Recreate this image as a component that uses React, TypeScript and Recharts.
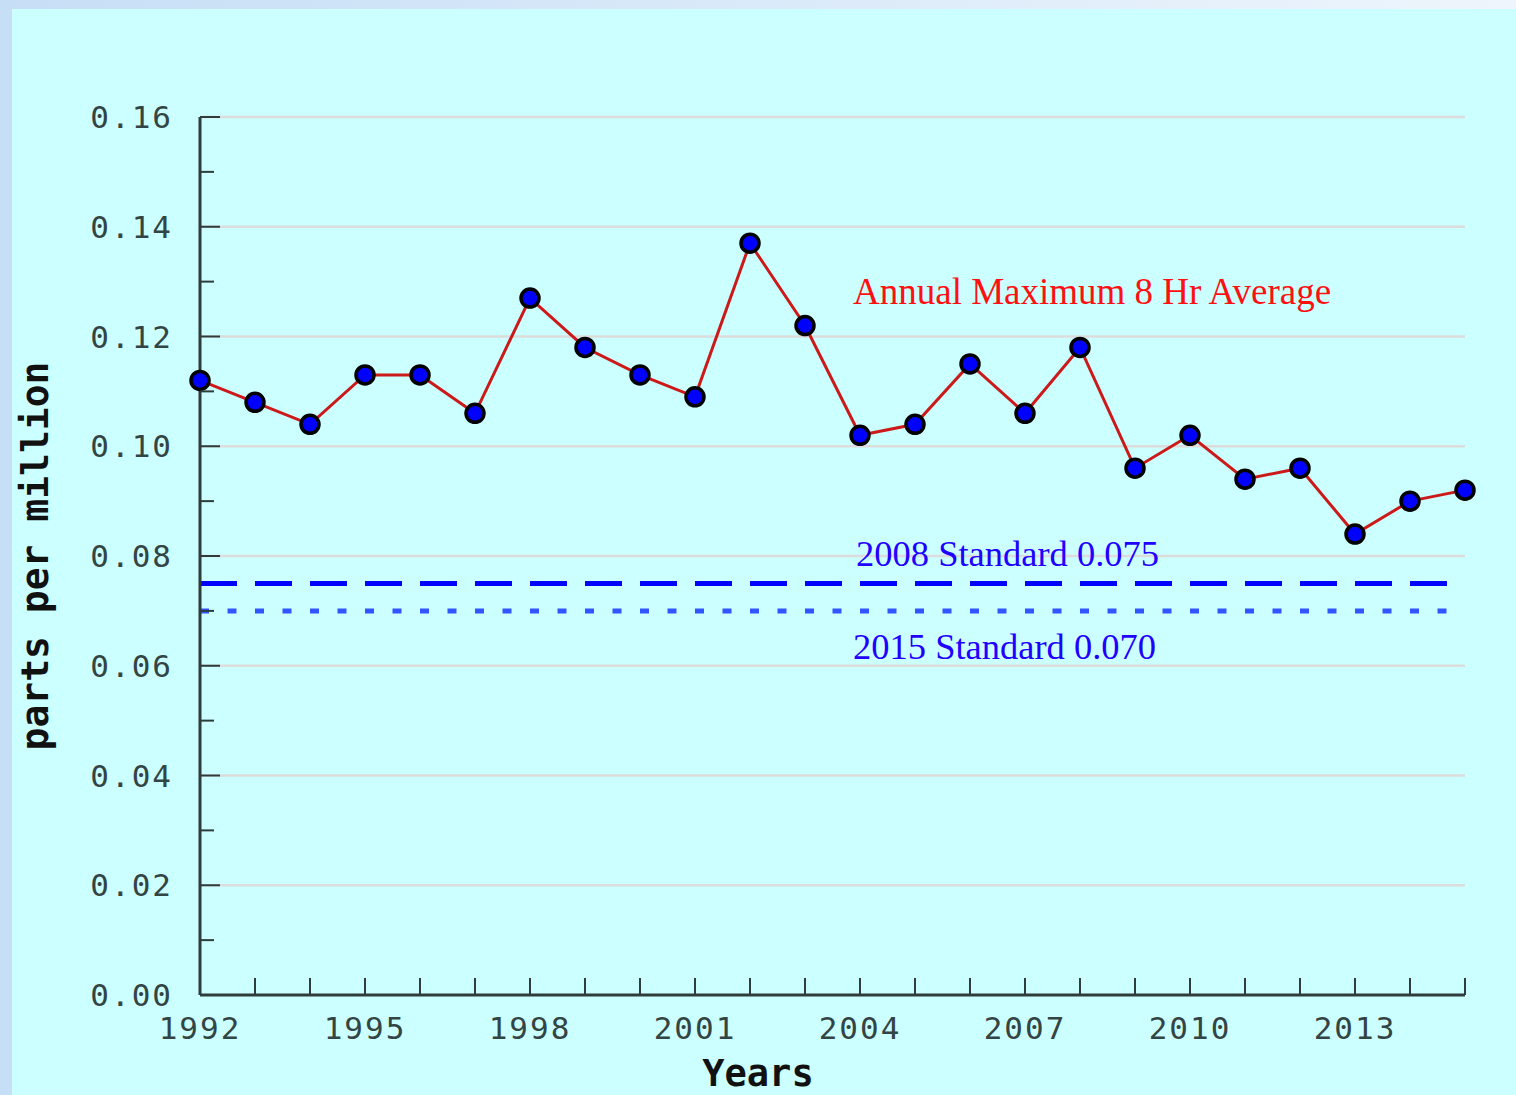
import React from 'react';
import { LineChart, Line, XAxis, YAxis, CartesianGrid, ReferenceLine } from 'recharts';

const years = [1992, 1993, 1994, 1995, 1996, 1997, 1998, 1999, 2000, 2001, 2002, 2003, 2004, 2005, 2006, 2007, 2008, 2009, 2010, 2011, 2012, 2013, 2014, 2015];
const ozonePpm = [0.112, 0.108, 0.104, 0.113, 0.113, 0.106, 0.127, 0.118, 0.113, 0.109, 0.137, 0.122, 0.102, 0.104, 0.115, 0.106, 0.118, 0.096, 0.102, 0.094, 0.096, 0.084, 0.090, 0.092];
const yTicks = [0, 0.01, 0.02, 0.03, 0.04, 0.05, 0.06, 0.07, 0.08, 0.09, 0.1, 0.11, 0.12, 0.13, 0.14, 0.15, 0.16];
const gridValues = [0.02, 0.04, 0.06, 0.08, 0.1, 0.12, 0.14, 0.16];
const standard2008 = 0.075;
const standard2015 = 0.07;
const seriesLabel = 'Annual Maximum 8 Hr Average';
const std2008Label = '2008 Standard 0.075';
const std2015Label = '2015 Standard 0.070';

const data = years.map((year, i) => ({ year, ppm: ozonePpm[i] }));

const MONO = '"DejaVu Sans Mono", "Liberation Mono", monospace';
const SERIF = '"Liberation Serif", "DejaVu Serif", serif';
const AXIS = '#2f3c3c';
const LABEL = '#334444';

const XTick = (props: any) => {
  const { x, y, payload } = props;
  const yr = payload.value;
  const show = (yr - 1992) % 3 === 0;
  return (
    <g>
      {yr !== 1992 && <line x1={x} x2={x} y1={y} y2={y - 17} stroke={AXIS} strokeWidth={2} />}
      {show && (
        <text x={x} y={y + 33} textAnchor="middle" dominantBaseline="central" fontFamily={MONO} fontSize={31} letterSpacing={2} fill={LABEL}>
          {yr}
        </text>
      )}
    </g>
  );
};

const YTick = (props: any) => {
  const { x, y, payload } = props;
  const idx = Math.round(payload.value * 100);
  const major = idx % 2 === 0;
  return (
    <g>
      {idx !== 0 && <line x1={x} x2={x + (major ? 20 : 14)} y1={y} y2={y} stroke={AXIS} strokeWidth={2} />}
      {major && (
        <text x={x - 27} y={y} textAnchor="end" dominantBaseline="central" fontFamily={MONO} fontSize={31} letterSpacing={2} fill={LABEL}>
          {payload.value.toFixed(2)}
        </text>
      )}
    </g>
  );
};

export default function App() {
  return (
    <div style={{ position: 'absolute', left: 0, top: 0, width: 1516, height: 1095, background: 'linear-gradient(to right, #c6def6, #eef5fc)', overflow: 'hidden' }}>
      <div style={{ position: 'absolute', left: 12, top: 9, width: 1504, height: 1086, background: '#ccffff' }} />
      <div style={{ position: 'absolute', left: 0, top: 0 }}>
        <LineChart width={1516} height={1095} data={data} margin={{ top: 117, right: 51, left: 20, bottom: 40 }}>
          <CartesianGrid vertical={false} horizontalValues={gridValues} stroke="#dcdcdc" strokeWidth={2.5} />
          <XAxis
            dataKey="year"
            type="number"
            domain={[1992, 2015]}
            ticks={years}
            interval={0}
            height={60}
            tickSize={0}
            tickMargin={0}
            tickLine={false}
            axisLine={{ stroke: AXIS, strokeWidth: 3 }}
            tick={<XTick />}
            label={(p: any) => {
              const vb = p.viewBox || {};
              return (
                <text x={758} y={(vb.y || 995) + 78} textAnchor="middle" dominantBaseline="central" fontFamily={MONO} fontWeight="bold" fontSize={37} fill="#111">
                  Years
                </text>
              );
            }}
          />
          <YAxis
            type="number"
            domain={[0, 0.16]}
            ticks={yTicks}
            interval={0}
            width={180}
            tickSize={0}
            tickMargin={0}
            tickLine={false}
            axisLine={{ stroke: AXIS, strokeWidth: 3 }}
            tick={<YTick />}
            label={(p: any) => {
              const vb = p.viewBox || {};
              const cx = (vb.x ?? 20) + 15;
              const cy = (vb.y ?? 117) + (vb.height ?? 878) / 2;
              return (
                <text x={cx} y={cy} transform={`rotate(-90 ${cx} ${cy})`} textAnchor="middle" dominantBaseline="central" fontFamily={MONO} fontWeight="bold" fontSize={38} fill="#111">
                  parts per million
                </text>
              );
            }}
          />
          <ReferenceLine
            y={standard2008}
            stroke="#0000ff"
            strokeWidth={5}
            strokeDasharray="37 18"
            label={(p: any) => {
              const vb = p.viewBox || {};
              return (
                <text x={(vb.x ?? 200) + 656} y={(vb.y ?? 583) - 30} dominantBaseline="central" fontFamily={SERIF} fontSize={36.5} fill="#2200ff">
                  {std2008Label}
                </text>
              );
            }}
          />
          <ReferenceLine
            y={standard2015}
            stroke="#3355ff"
            strokeWidth={5}
            strokeDasharray="9 18.5"
            label={(p: any) => {
              const vb = p.viewBox || {};
              return (
                <text x={(vb.x ?? 200) + 653} y={(vb.y ?? 611) + 36} dominantBaseline="central" fontFamily={SERIF} fontSize={36.5} fill="#2200ff">
                  {std2015Label}
                </text>
              );
            }}
          />
          <Line
            type="linear"
            dataKey="ppm"
            stroke="#cc1a1a"
            strokeWidth={3}
            dot={{ r: 9, fill: '#0000ff', stroke: '#000', strokeWidth: 3.5 }}
            activeDot={false}
            isAnimationActive={false}
          />
        </LineChart>
      </div>
      <div style={{ position: 'absolute', left: 853, top: 272, fontFamily: SERIF, fontSize: 37, color: '#ff1010', whiteSpace: 'nowrap', lineHeight: '40px' }}>
        {seriesLabel}
      </div>
    </div>
  );
}
